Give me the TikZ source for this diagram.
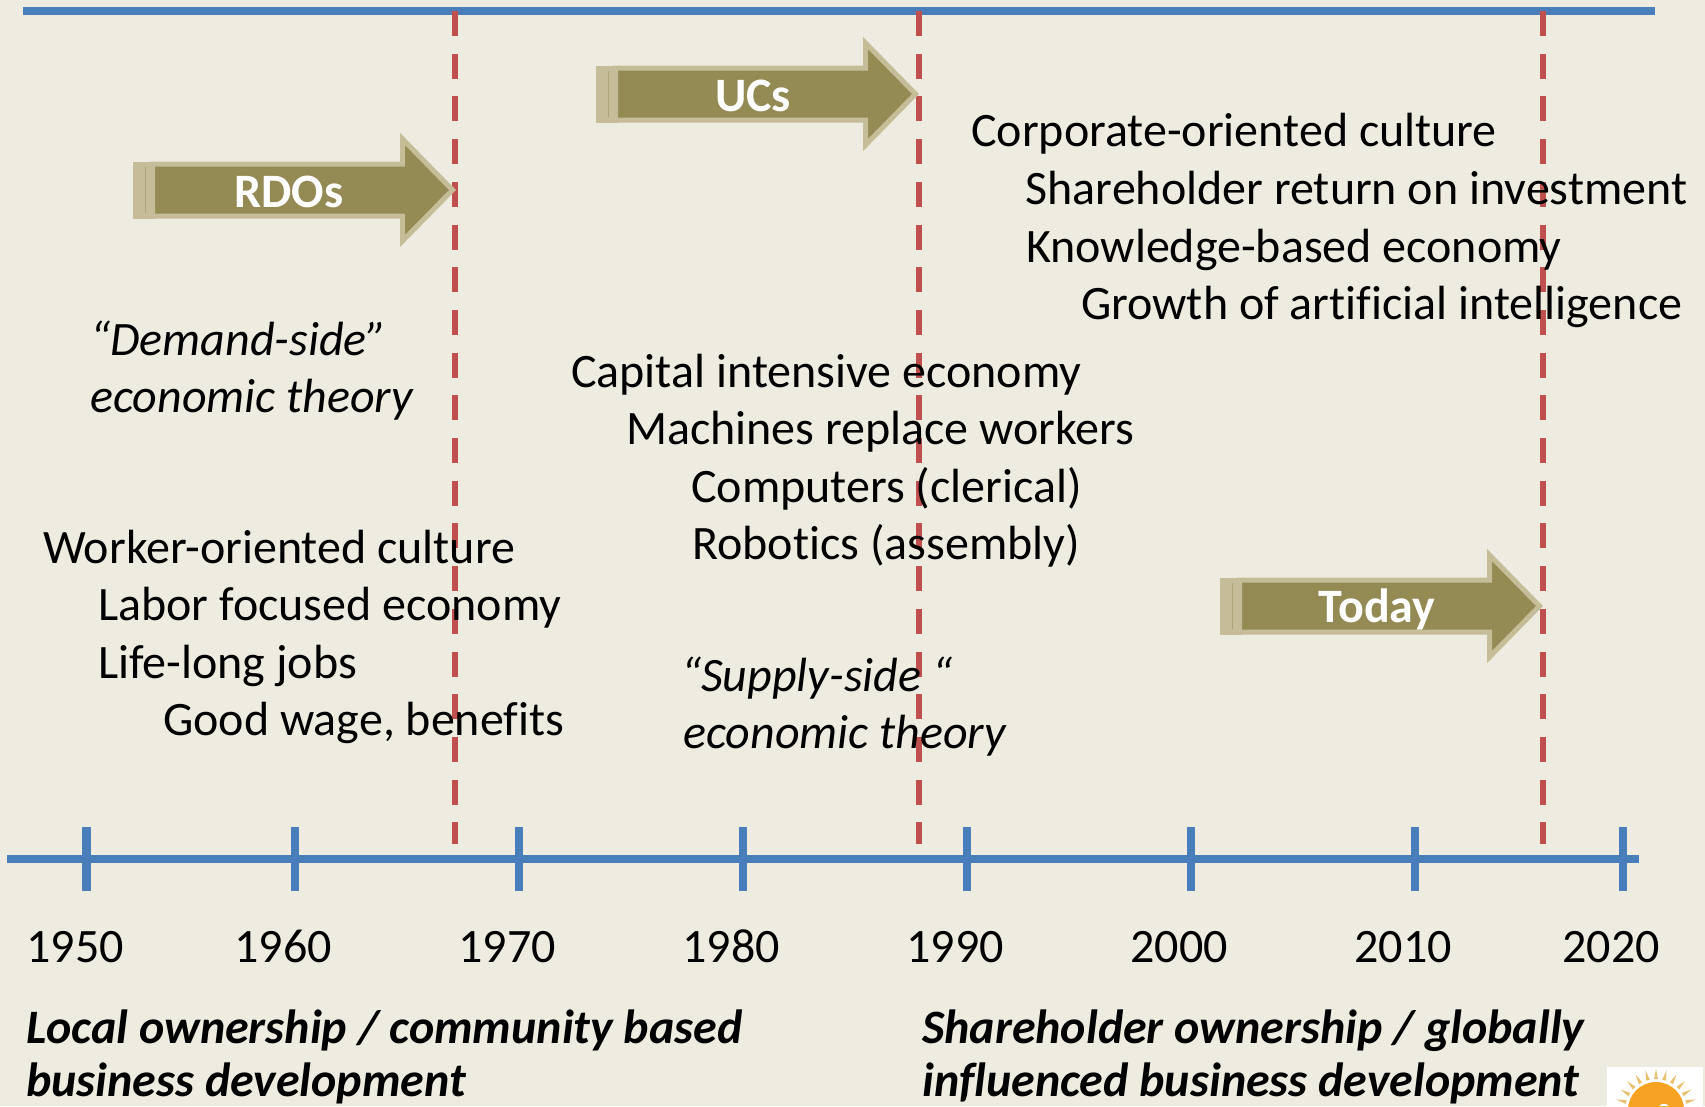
\documentclass[tikz,border=0pt]{standalone}
\usepackage{fontspec}
\setmainfont[Ligatures=NoCommon]{Carlito}
\definecolor{bgc}{HTML}{EEECE1}
\definecolor{bluel}{HTML}{4A7EBB}
\definecolor{redl}{HTML}{C0504D}
\definecolor{arrowf}{HTML}{948A54}
\definecolor{arrowb}{HTML}{C4BD97}
\definecolor{sunc}{HTML}{F6A323}
\definecolor{rayc}{HTML}{E8C06E}
\tikzset{
  x=1pt,y=-1pt,
  body/.style={anchor=base west,inner sep=0pt,font=\fontsize{48}{48}\selectfont,text=black},
  slant/.style={body,font=\fontsize{48}{48}\selectfont\itshape},
  heading/.style={body,font=\fontsize{48}{48}\selectfont\bfseries\itshape},
  year/.style={anchor=base,inner sep=0pt,font=\fontsize{48}{48}\selectfont,text=black},
  axisline/.style={draw=bluel,line width=8.5pt},
  ticksty/.style={draw=bluel,line width=8.5pt},
  limitline/.style={draw=redl,line width=6.3pt,dash pattern=on 25pt off 17.7pt},
  arrowsty/.style={fill=arrowf,draw=arrowb,line width=5pt,miter limit=10},
  arrowend/.style={fill=arrowb,draw=none},
  arrowtxt/.style={inner sep=0pt,text=white,font=\fontsize{48}{48}\selectfont\bfseries},
  bigarrow/.pic={
    \fill[arrowend] (0,-28.5) rectangle (22,28.5);
    \draw[arrowb!50!arrowf,line width=1pt] (12,-23) -- (12,23);
    \draw[arrowsty] (19.5,-26) -- (269.5,-26) -- (269.5,-51) -- (319.5,0) -- (269.5,51) -- (269.5,26) -- (19.5,26) -- cycle;
  },
}
\begin{document}
\begin{tikzpicture}
\useasboundingbox (0,0) rectangle (1705,1106);
\fill[bgc] (0,0) rectangle (1705,1106);

% logo
\begin{scope}
\clip (1607,1067) rectangle (1703,1106);
\fill[white] (1607,1067) rectangle (1703,1106);
\foreach \a in {-180,-165,...,0}
  \fill[rayc] ([shift={(\a-3.5:31)}]1656,1110) -- ([shift={(\a:41)}]1656,1110) -- ([shift={(\a+3.5:31)}]1656,1110) -- cycle;
\fill[sunc] (1656,1110) circle[radius=28];
\fill[white] (1659,1106) .. controls (1662,1103) and (1666,1103) .. (1669,1106) -- cycle;
\end{scope}

% axes
\coordinate (topL) at (23,11);
\coordinate (topR) at (1655,11);
\draw[axisline] (topL) -- (topR);
\coordinate (axL) at (7,859);
\coordinate (axR) at (1639,859);
\draw[axisline] (axL) -- (axR);

\foreach \n/\x/\lx/\yr in {a/86.5/75/1950,b/295/283/1960,c/519/507/1970,d/743/731/1980,e/967/955/1990,f/1191/1179/2000,g/1415/1403/2010,h/1623/1611/2020}{
  \coordinate (t\n1) at (\x,827);
  \coordinate (t\n2) at (\x,891);
  \draw[ticksty] (t\n1) -- (t\n2);
  \node[year] (y\n) at (\lx,962) {\yr};
}

% red limits
\foreach \n/\x in {r/455,s/919,t/1543}{
  \coordinate (\n1) at (\x,11);
  \coordinate (\n2) at (\x,844);
  \draw[limitline] (\n1) -- (\n2);
}

% arrows
\pic at (133,190) {bigarrow};
\node[arrowtxt] (rdos) at (289,192) {RDOs};
\pic at (596,94) {bigarrow};
\node[arrowtxt] (ucs) at (753,96) {UCs};
\pic at (1220,606) {bigarrow};
\node[arrowtxt] (today) at (1377,609) {Today};

% text
\node[body] (c1) at (971,146) {Corporate-oriented culture};
\node[body] (c2) at (1025.5,204) {Shareholder return on investment};
\node[body] (c3) at (1026,262) {Knowledge-based economy};
\node[body] (c4) at (1081,319) {Growth of artificial intelligence};

\node[body] (m1) at (571,387) {Capital intensive economy};
\node[body] (m2) at (626,444) {Machines replace workers};
\node[body] (m3) at (691,502) {Computers (clerical)};
\node[body] (m4) at (692,559) {Robotics (assembly)};

\node[body] (w1) at (43,563) {Worker-oriented culture};
\node[body] (w2) at (98,620) {Labor focused economy};
\node[body] (w3) at (98,678) {Life-long jobs};
\node[body] (w4) at (163,735) {Good wage, benefits};

\node[slant] (d1) at (90,355) {“Demand-side”};
\node[slant] (d2) at (90,412) {economic theory};
\node[slant] (s1) at (681,691) {“Supply-side “};
\node[slant] (s2) at (683,748) {economic theory};

\node[heading] (l1) at (26,1043) {Local ownership / community based};
\node[heading] (l2) at (26,1096) {business development};
\node[heading] (g1) at (922,1043) {Shareholder ownership / globally};
\node[heading] (g2) at (922,1096) {influenced business development};
\end{tikzpicture}
\end{document}
